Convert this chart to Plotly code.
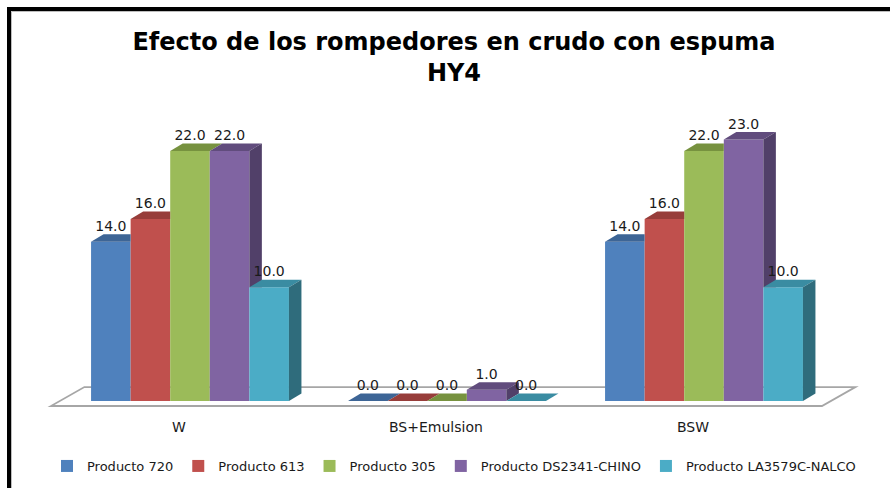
import plotly.graph_objects as go

# ---- data -------------------------------------------------------------
categories = ["W", "BS+Emulsion", "BSW"]
series_names = [
    "Producto 720",
    "Producto 613",
    "Producto 305",
    "Producto DS2341-CHINO",
    "Producto LA3579C-NALCO",
]
producto_720 = [14.0, 0.0, 14.0]
producto_613 = [16.0, 0.0, 16.0]
producto_305 = [22.0, 0.0, 22.0]
producto_ds2341 = [22.0, 1.0, 23.0]
producto_la3579c = [10.0, 0.0, 10.0]
series_values = [producto_720, producto_613, producto_305, producto_ds2341, producto_la3579c]

# ---- styling ----------------------------------------------------------
front_colors = ["#4f81bd", "#c0504d", "#9bbb59", "#8064a2", "#4bacc6"]
top_colors = ["#3d6596", "#973d3a", "#77923f", "#614c7d", "#3a8ca2"]
side_colors = ["#2f4f77", "#7a302e", "#5f7532", "#514069", "#2f6c7c"]

W, H = 890, 488
X_RANGE = [-0.7393, 2.7237]     # one unit per category
Y_RANGE = [-7.65, 35.27]        # value units
BAR_W = 0.154                   # width of one bar (category units)
DEPTH_X = 0.0486                # 3-D depth offset, horizontal (category units)
DEPTH_Y = 0.66                  # 3-D depth offset, vertical (value units)
FLOOR_SHIFT = 0.041             # floor front edge sits left of the bar fronts
FLOOR_FRONT, FLOOR_BACK = -0.44, 1.23
FLOOR_DX = 0.130

n_series = len(series_values)
fig = go.Figure()

# front faces as real bars
for k, (name, vals) in enumerate(zip(series_names, series_values)):
    off = (k - (n_series - 1) / 2) * BAR_W
    fig.add_trace(go.Bar(
        x=[i + off for i in range(len(categories))],
        y=vals,
        width=BAR_W,
        name=name,
        marker=dict(color=front_colors[k], line=dict(width=0)),
        hoverinfo="skip",
    ))

# top and side faces, drawn left to right so that nearer faces cover farther ones
for i in range(len(categories)):
    for k in range(n_series):
        h = series_values[k][i]
        h_next = series_values[k + 1][i] if k + 1 < n_series else 0.0
        xc = i + (k - (n_series - 1) / 2) * BAR_W
        xl, xr = xc - BAR_W / 2, xc + BAR_W / 2
        # top face
        if h_next > h:
            tx = [xl, xr, xr, xl + DEPTH_X, xl]
            ty = [h, h, h + DEPTH_Y, h + DEPTH_Y, h]
        else:
            tx = [xl, xr, xr + DEPTH_X, xl + DEPTH_X, xl]
            ty = [h, h, h + DEPTH_Y, h + DEPTH_Y, h]
        fig.add_trace(go.Scatter(
            x=tx, y=ty, mode="lines", fill="toself",
            fillcolor=top_colors[k], line=dict(width=0, color=top_colors[k]),
            showlegend=False, hoverinfo="skip",
        ))
        # side face (only the part above the neighbouring bar)
        if h > h_next:
            low = h_next
            sx = [xr, xr, xr + DEPTH_X, xr + DEPTH_X, xr]
            sy = [low, h, h + DEPTH_Y, low + (DEPTH_Y if low == 0 else 0), low]
            fig.add_trace(go.Scatter(
                x=sx, y=sy, mode="lines", fill="toself",
                fillcolor=side_colors[k], line=dict(width=0, color=side_colors[k]),
                showlegend=False, hoverinfo="skip",
            ))

# value labels
for k in range(n_series):
    off = (k - (n_series - 1) / 2) * BAR_W
    vals = series_values[k]
    fig.add_trace(go.Scatter(
        x=[i + off for i in range(len(categories))],
        y=[v + DEPTH_Y for v in vals],
        mode="text",
        text=[f"{v:.1f}" for v in vals],
        textposition="top center",
        textfont=dict(family="DejaVu Sans", size=14, color="#1a1a1a"),
        showlegend=False, hoverinfo="skip",
    ))

# category labels along the floor's front edge
for i, cat in enumerate(categories):
    fig.add_annotation(
        x=i - FLOOR_SHIFT, y=-2.29, text=cat, showarrow=False,
        xanchor="center", yanchor="middle",
        font=dict(family="DejaVu Sans", size=14, color="#1a1a1a"),
    )

# floor of the 3-D plot
fx0 = -0.5 - FLOOR_SHIFT
fx1 = len(categories) - 0.5 - FLOOR_SHIFT
floor_path = (
    f"M {fx0} {FLOOR_FRONT} L {fx1} {FLOOR_FRONT} "
    f"L {fx1 + FLOOR_DX} {FLOOR_BACK} L {fx0 + FLOOR_DX} {FLOOR_BACK} Z"
)
shapes = [
    dict(type="path", path=floor_path, xref="x", yref="y", layer="below",
         line=dict(color="#a6a6a6", width=1.8), fillcolor="white"),
    # chart frame
    dict(type="rect", xref="paper", yref="paper",
         x0=9 / W, x1=1.02, y0=-0.05, y1=1 - 9 / H,
         line=dict(color="black", width=4), layer="above"),
    dict(type="rect", xref="paper", yref="paper",
         x0=11.5 / W, x1=1.02, y0=-0.05, y1=1 - 11.5 / H,
         line=dict(color="#bdbdbd", width=1), layer="above"),
]

fig.update_layout(
    width=W, height=H,
    margin=dict(l=0, r=0, t=0, b=0),
    paper_bgcolor="white", plot_bgcolor="white",
    barmode="overlay",
    shapes=shapes,
    title=dict(
        text="<b>Efecto de los rompedores en crudo con espuma<br>HY4</b>",
        x=454 / W, xanchor="center",
        y=1 - 50 / H, yanchor="top",
        font=dict(family="DejaVu Sans", size=24, color="black"),
    ),
    xaxis=dict(range=X_RANGE, visible=False, fixedrange=True),
    yaxis=dict(range=Y_RANGE, visible=False, fixedrange=True),
    legend=dict(
        orientation="h", x=454 / W, xanchor="center",
        y=1 - 466 / H, yanchor="middle",
        font=dict(family="DejaVu Sans", size=13, color="#1a1a1a"),
        bgcolor="rgba(0,0,0,0)", itemclick=False, itemdoubleclick=False,
    ),
    showlegend=True,
)

fig.write_html("out.html")
